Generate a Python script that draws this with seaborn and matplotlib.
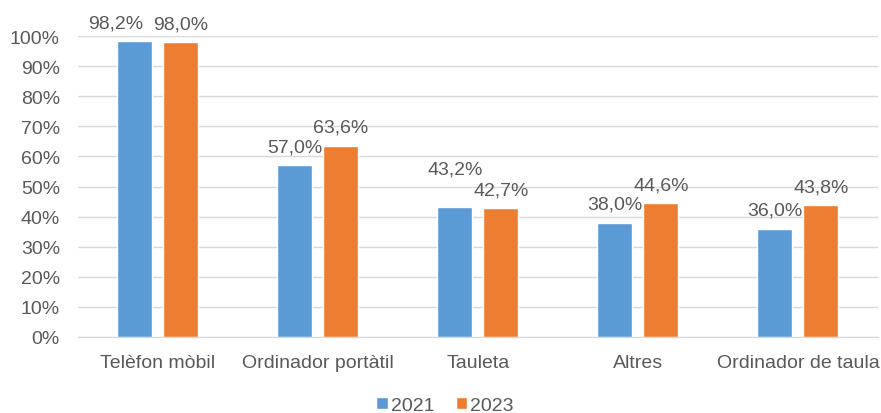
import pandas as pd
import matplotlib.pyplot as plt
import seaborn as sns

# data
devices = ['Telèfon mòbil', 'Ordinador portàtil', 'Tauleta', 'Altres', 'Ordinador de taula']
years = ['2021', '2023']
pct_2021 = [98.2, 57.0, 43.2, 38.0, 36.0]
pct_2023 = [98.0, 63.6, 42.7, 44.6, 43.8]

df = pd.DataFrame({
    'Dispositiu': devices * 2,
    'Any': [years[0]] * len(devices) + [years[1]] * len(devices),
    'Valor': [v / 100 for v in pct_2021 + pct_2023],
})

sns.set_style('white')
plt.rcParams['font.family'] = ['Liberation Sans', 'DejaVu Sans']
grey = '#595959'
fs = 14

fig = plt.figure(figsize=(8.81, 4.14), dpi=100)
ax = fig.add_axes([0.0885, 0.1836, 0.908, 0.727])

sns.barplot(data=df, x='Dispositiu', y='Valor', hue='Any',
            palette=['#5B9BD5', '#ED7D31'], width=0.575, gap=0.24,
            saturation=1, ax=ax)

# data labels with comma decimal; a couple nudged to avoid overlaps (like Excel does)
nudge = {(0, 0): (-14, 0), (0, 2): (0, 14)}
for s, cont in enumerate(ax.containers):
    labels = [f'{b.get_height() * 100:.1f}%'.replace('.', ',') for b in cont]
    anns = ax.bar_label(cont, labels=labels, padding=7, fontsize=fs, color=grey)
    for i, a in enumerate(anns):
        dx, dy = nudge.get((s, i), (0, 0))
        x0, y0 = a.xyann
        a.xyann = (x0 + dx, y0 + dy)

ax.set_ylim(0, 1.0)
ax.set_yticks([i / 10 for i in range(11)])
ax.set_yticklabels([f'{i * 10}%' for i in range(11)])
ax.yaxis.grid(True, color='#D9D9D9', linewidth=1)
ax.set_axisbelow(True)
ax.tick_params(axis='both', length=0, labelsize=fs, colors=grey)
ax.tick_params(axis='x', pad=12)
ax.tick_params(axis='y', pad=13)
ax.set_xlabel('')
ax.set_ylabel('')
for s in ['top', 'right', 'left']:
    ax.spines[s].set_visible(False)
ax.spines['bottom'].set_color('#D9D9D9')

ax.get_legend().remove()
handles, lbls = ax.get_legend_handles_labels()
fig.legend(handles, lbls, loc='lower center', bbox_to_anchor=(0.505, -0.045),
           ncol=2, frameon=False, fontsize=fs, labelcolor=grey,
           handlelength=0.6, handleheight=0.6, handletextpad=0.15, columnspacing=1.1)

fig.savefig('out.png', dpi=100)
